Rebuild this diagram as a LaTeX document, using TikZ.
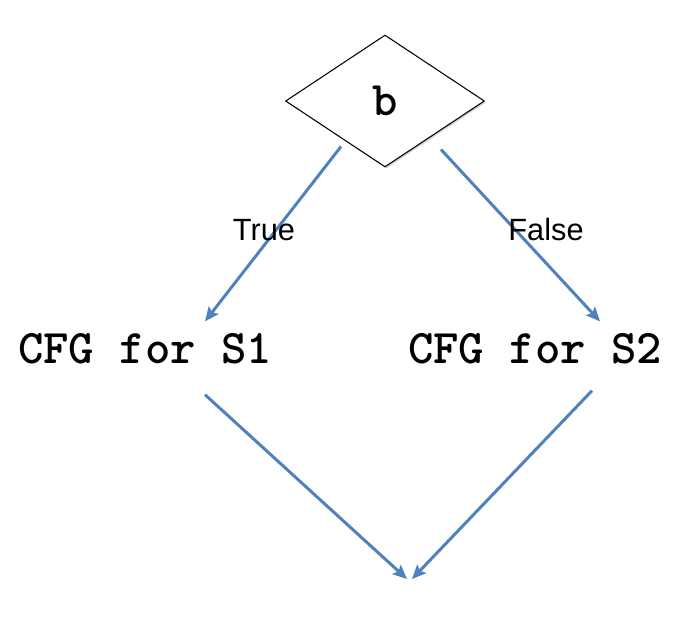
\documentclass[tikz,border=0pt]{standalone}
\usepackage{fontspec}
\setmainfont{Liberation Sans}
\newfontfamily\codefont{lmmonolt10-bold.otf}
\usetikzlibrary{shapes.geometric,arrows.meta,calc,shadows}
\definecolor{flowblue}{RGB}{79,129,189}
\tikzset{
  cond/.style={diamond, draw, line width=0.6pt, fill=white, inner sep=0pt,
    minimum width=3.98cm, minimum height=2.64cm,
    drop shadow={shadow xshift=0.8pt, shadow yshift=-0.9pt, opacity=0.35},
    font=\codefont\fontsize{27.5}{31}\selectfont},
  code/.style={inner sep=0pt, font=\codefont\fontsize{27.5}{31}\selectfont},
  branch/.style={inner sep=0pt, font=\fontsize{17.5}{20}\selectfont},
  flow/.style={line width=1.7pt, flowblue, -{Stealth[length=8pt, width=7pt, inset=1.5pt]}}
}
\begin{document}
\begin{tikzpicture}[x=0.02cm, y=-0.02cm]
        \useasboundingbox (0,0) rectangle (695,622);
        % test
        \node [cond] (b) at (385,101) {b};
        % blocks
        \node [code] (s1) at (145,349) {CFG for S1};
        \node [code] (s2) at (535,349) {CFG for S2};
        \coordinate (join) at (410,579);
        % branches
        \draw [flow] ($(b.south)+(-44,-21)$) -- ($(s1.north)+(60,-12)$);
        \draw [flow] ($(b.south)+(56,-18)$) -- ($(s2.north)+(65,-12)$);
        \node [branch] (t) at (264,230) {True};
        \node [branch] (f) at (546,230) {False};
        % merge
        \draw [flow] ($(s1.south)+(60,30)$) -- ($(join)+(-3,0)$);
        \draw [flow] ($(s2.south)+(57,26)$) -- ($(join)+(2,0)$);
    \end{tikzpicture}
\end{document}
